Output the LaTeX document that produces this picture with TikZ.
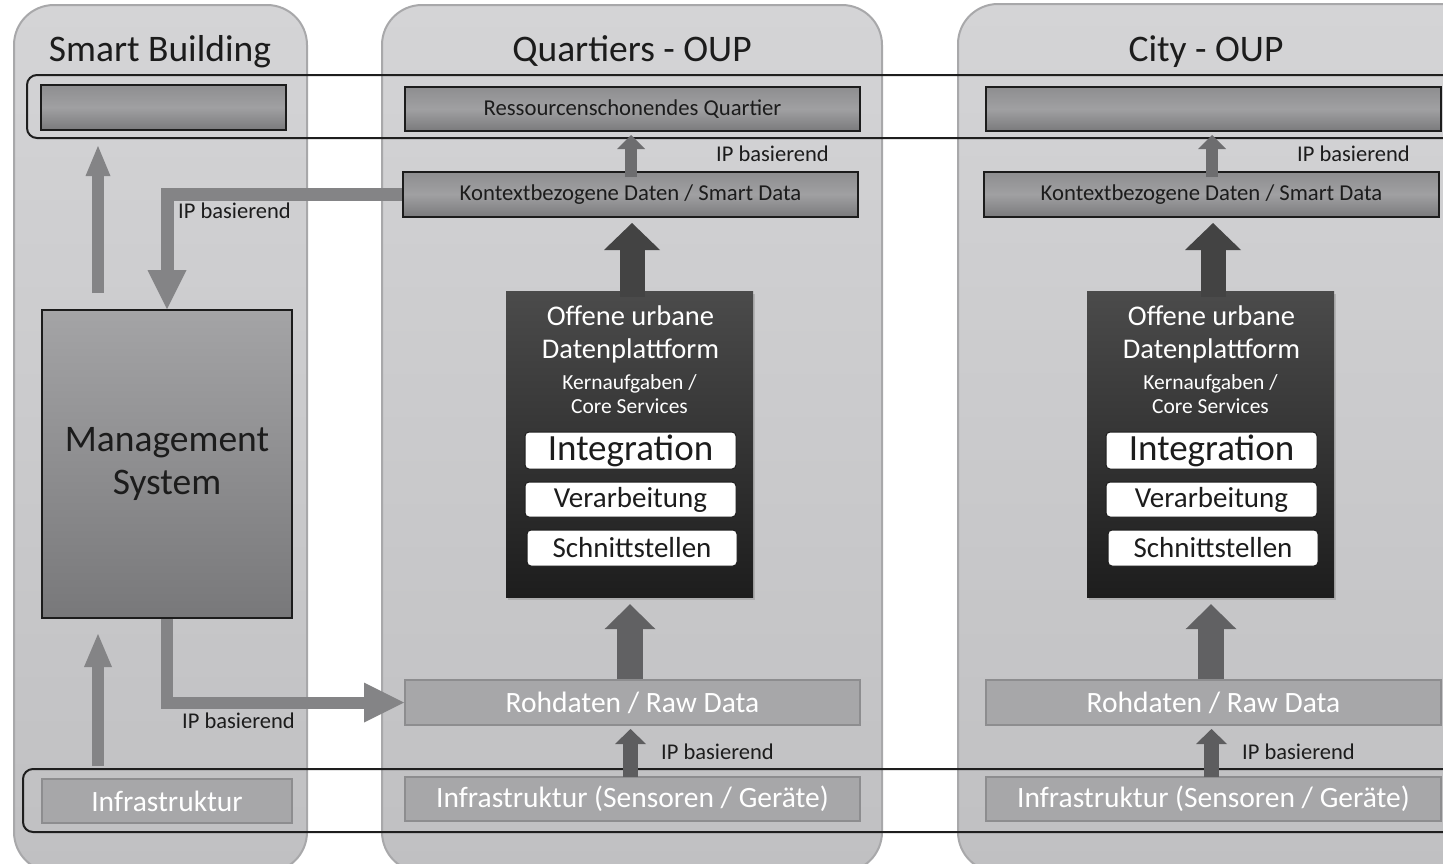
\documentclass[tikz,border=0pt]{standalone}
\usepackage{fontspec}
\setmainfont{Carlito}
\usetikzlibrary{arrows.meta,shadows,calc}
\definecolor{colTop}{HTML}{D4D4D6}
\definecolor{colBot}{HTML}{C0C0C2}
\definecolor{colEdge}{HTML}{A8A8AA}
\definecolor{bandLine}{HTML}{1E1E1E}
\definecolor{boxTop}{HTML}{8E8E90}
\definecolor{boxMid}{HTML}{A0A0A2}
\definecolor{boxBot}{HTML}{7A7A7C}
\definecolor{msTop}{HTML}{A4A4A6}
\definecolor{msBot}{HTML}{78787A}
\definecolor{platTop}{HTML}{4B4B4B}
\definecolor{platBot}{HTML}{1D1D1D}
\definecolor{rawFill}{HTML}{A7A7A9}
\definecolor{rawEdge}{HTML}{8D8D8F}
\definecolor{arrSB}{HTML}{848486}
\definecolor{arrSmall}{HTML}{6D6D6F}
\definecolor{arrDark}{HTML}{434343}
\definecolor{arrMid}{HTML}{616163}
\definecolor{arrLow}{HTML}{5D5D5F}
\definecolor{txt}{HTML}{1C1C1C}
\newcommand\fsz[1]{\fontsize{#1pt}{#1pt}\selectfont}
\tikzset{
 colbg/.style={draw=colEdge, line width=2pt, rounded corners=40pt, top color=colTop, bottom color=colBot},
 bandbox/.style={draw=bandLine, line width=2pt, rounded corners=10pt},
 gbox/.style={draw=txt, line width=2pt, top color=boxTop, bottom color=boxBot, middle color=boxMid, inner sep=0pt, text=txt, font=\fsz{22.7}},
 msbox/.style={draw=txt, line width=2pt, top color=msTop, bottom color=msBot, inner sep=0pt, text=txt, font=\fontsize{37.5pt}{43pt}\selectfont, align=center},
 platbox/.style={top color=platTop, bottom color=platBot, inner sep=0pt, drop shadow={shadow xshift=2pt, shadow yshift=-3pt, opacity=0.35}},
 wbox/.style={draw=txt, line width=1pt, fill=white, rounded corners=4pt, inner sep=0pt, text=txt},
 rbox/.style={draw=rawEdge, line width=2pt, fill=rawFill, inner sep=0pt, text=white, font=\fsz{29.5}},
 iplab/.style={anchor=base west, inner sep=0pt, text=txt, font=\fsz{22.5}},
 plattext/.style={anchor=base, inner sep=0pt, text=white},
 ttl/.style={anchor=base, inner sep=0pt, text=txt, font=\fsz{37.5}},
 fat/.style n args={4}{draw=#1, line width=#2pt, -{Triangle[width=#3pt, length=#4pt, line width=0pt]}},
}
\newcommand\oupcol[3]{%
 \begin{scope}[xshift=#2pt]
 \node[gbox, minimum width=455pt, minimum height=44pt] (#1top) at (632.5,109) {#3};
 \node[gbox, minimum width=455pt, minimum height=45pt] (#1ctx) at (630.5,194.5) {Kontextbezogene Daten / Smart Data};
 \node[platbox, minimum width=247pt, minimum height=306pt] (#1plat) at (629.5,444) {};
 \node[plattext, font=\fsz{28.5}] (#1la) at (630.5,325) {Offene urbane};
 \node[plattext, font=\fsz{28.5}] (#1lb) at (630.5,358) {Datenplattform};
 \node[plattext, font=\fsz{21.5}] (#1lc) at (629.5,389) {Kernaufgaben /};
 \node[plattext, font=\fsz{21.5}] (#1ld) at (629.5,413) {Core Services};
 \node[wbox, minimum width=211pt, minimum height=37pt, font=\fsz{37}] (#1int) at (630.5,450.5) {Integration};
 \node[wbox, minimum width=211pt, minimum height=35pt, font=\fsz{29}] (#1ver) at (630.5,499.5) {Verarbeitung};
 \node[wbox, minimum width=210pt, minimum height=36pt, font=\fsz{29}] (#1sch) at (632,548) {Schnittstellen};
 \node[rbox, minimum width=455pt, minimum height=45pt] (#1raw) at (632.5,702.5) {Rohdaten / Raw Data};
 \node[rbox, minimum width=455pt, minimum height=44pt] (#1inf) at (632.5,799) {Infrastruktur (Sensoren / Geräte)};
 \node[iplab] (#1ipa) at (716,161) {IP basierend};
 \node[iplab] (#1ipb) at (661,759) {IP basierend};
 \end{scope}
 \draw[fat={arrSmall}{12}{28}{14}] ($(#1ctx.north)+(0.5,6)$) -- ($(#1top.south)+(-1.5,3)$);
 \draw[fat={arrDark}{25}{56}{27}] ($(#1plat.north)+(2.5,6)$) -- ($(#1ctx.south)+(1.5,5)$);
 \draw[fat={arrMid}{26}{51}{25}] ($(#1raw.north)+(-2.5,0)$) -- ($(#1plat.south)+(0.5,7)$);
 \draw[fat={arrLow}{15}{31}{15}] ($(#1inf.north)+(-2,1)$) -- ($(#1raw.south)+(-2,3)$);
}
\begin{document}
\begin{tikzpicture}[x=1pt,y=-1pt]
\useasboundingbox (0,0) rectangle (1443,863);
\clip (0,0) rectangle (1443,863);
% columns
\draw[colbg] (14,5) rectangle (307,872);
\draw[colbg] (382,5) rectangle (882,872);
\draw[colbg] (958,4) rectangle (1520,872);
% bands
\draw[bandbox] (27,75) rectangle (1480,138);
\draw[bandbox] (23,769) rectangle (1480,832);
% titles
\node[ttl] (tsb) at (160,61) {Smart Building};
\node[ttl] (tq) at (632,61) {Quartiers - OUP};
\node[ttl] (tc) at (1206,61) {City - OUP};
% smart building
\node[gbox, minimum width=245pt, minimum height=45pt] (sbtop) at (163.5,107.5) {};
\node[msbox, minimum width=250pt, minimum height=308pt] (ms) at (167,464) {Management\\System};
\node[rbox, minimum width=250pt, minimum height=44pt] (sbinf) at (167,801) {Infrastruktur};
% OUP columns
\oupcol{q}{0}{Ressourcenschonendes Quartier}
\oupcol{c}{581}{}
% smart building arrows
\draw[fat={arrSB}{12}{25}{30}] ($(ms.north)+(-69,-16)$) -- ($(sbtop.south)+(-65.5,15)$);
\draw[fat={arrSB}{13}{39}{39}] (qctx.west) -| (ms.north);
\draw[fat={arrSB}{12}{28}{33}] ($(sbinf.north)+(-69,-12)$) -- ($(ms.south)+(-69,15)$);
\draw[fat={arrSB}{12}{40}{40}] (ms.south) |- (qraw.west);
\node[iplab] (sbipa) at (178,218) {IP basierend};
\node[iplab] (sbipb) at (182,728) {IP basierend};
\end{tikzpicture}
\end{document}
